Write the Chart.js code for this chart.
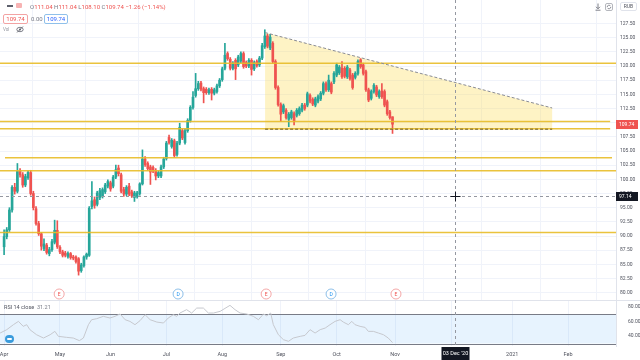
<!DOCTYPE html>
<html lang="en">
<head>
<meta charset="UTF-8" />
<title>RSI / price chart</title>
<script src="https://cdn.jsdelivr.net/npm/chart.js@4.4.0/dist/chart.umd.min.js"></script>
<style>
    body { margin: 0; background: #fff; font-family: Roboto, "Noto Sans", sans-serif; }
    #wrap { position: relative; width: 640px; height: 360px; overflow: hidden; }
    canvas { position: absolute; left: 0; }
    #main { top: 0; }
    #rsi { top: 300px; }
    .t { position: absolute; white-space: nowrap; line-height: 1; }
    .box { position: absolute; border: 1px solid; border-radius: 2px; font-size: 6px; line-height: 8px; text-align: center; }
</style>
</head>
<body>
<div id="wrap">
    <canvas id="main" width="640" height="300"></canvas>
    <canvas id="rsi" width="640" height="60"></canvas>

    <!-- legend -->
    <div class="t" style="left:7px;top:5px;width:6px;height:1.5px;background:#5d606b"></div>
    <div class="t" style="left:16px;top:3px;width:6px;height:5px;background:#f7b3b3;border-radius:1px"></div>
    <div class="t" style="left:30px;top:4px;font-size:6px;color:#787b86">O<span style="color:#ef5350">111.04</span> H<span style="color:#ef5350">111.04</span> L<span style="color:#ef5350">108.10</span> C<span style="color:#ef5350">109.74</span> <span style="color:#ef5350">−1.26 (−1.14%)</span></div>
    <div class="box" style="left:3px;top:14px;width:23px;height:8px;border-color:#f3a3a3;color:#ef5350">109.74</div>
    <div class="t" style="left:31px;top:16px;font-size:6px;color:#787b86">0.00</div>
    <div class="box" style="left:44px;top:14px;width:22px;height:8px;border-color:#8fc0ea;color:#2962ff">109.74</div>
    <div class="t" style="left:3px;top:28px;font-size:4.5px;color:#9598a1">Vol</div>
    <svg class="t" style="left:16px;top:26px" width="8" height="7" viewBox="0 0 8 7">
        <ellipse cx="4" cy="3.5" rx="3.2" ry="2.2" fill="none" stroke="#5d606b" stroke-width="0.8"/>
        <circle cx="4" cy="3.5" r="1" fill="#5d606b"/>
        <line x1="1" y1="6.5" x2="7" y2="0.5" stroke="#5d606b" stroke-width="0.8"/>
    </svg>

    <!-- top right -->
    <svg class="t" style="left:594px;top:3px" width="8" height="8" viewBox="0 0 8 8">
        <line x1="4" y1="0.5" x2="4" y2="5.5" stroke="#5d606b" stroke-width="0.8"/>
        <polyline points="2,3.8 4,5.8 6,3.8" fill="none" stroke="#5d606b" stroke-width="0.8"/>
        <line x1="1.5" y1="7.2" x2="6.5" y2="7.2" stroke="#5d606b" stroke-width="0.8"/>
    </svg>
    <svg class="t" style="left:605px;top:3px" width="8" height="8" viewBox="0 0 8 8">
        <rect x="0.5" y="0.5" width="7" height="7" rx="1.5" fill="none" stroke="#9598a1" stroke-width="0.7"/>
        <path d="M2.2 4 A1.8 1.8 0 0 1 5.6 3.2" fill="none" stroke="#5d606b" stroke-width="0.7"/>
        <path d="M5.8 4 A1.8 1.8 0 0 1 2.4 4.8" fill="none" stroke="#5d606b" stroke-width="0.7"/>
    </svg>
    <div class="box" style="left:620px;top:2px;width:15px;height:7px;line-height:7px;border-color:#e0e3eb;color:#50535e;font-size:5px">RUB</div>

    <!-- RSI pane -->
    <div class="t" style="left:4px;top:305px;font-size:5.5px;color:#50535e">RSI 14 close&nbsp;&nbsp;<span style="color:#787b86">31.21</span></div>
    <div class="t" style="left:5px;top:335px;width:9px;height:8px;border-radius:4px;background:#3a9bdc"></div>
    <div class="t" style="left:7px;top:338px;width:5px;height:2px;border-radius:1px;background:#fff"></div>
</div>

<script>
    const family = 'Roboto, "Noto Sans", sans-serif';
    const UP = '#26a69a';
    const DOWN = '#ef5350';

    // daily candles, index 0 = first trading day of April 2020
    const opens = [
        88.1, 89.9, 91.1, 94.6, 98.6, 97.9, 101.5, 100.8, 99.0, 100.3,
        101.2, 97.5, 94.8, 92.2, 90.4, 87.8, 88.4, 86.9, 87.6, 88.9,
        91.0, 88.0, 87.2, 87.0, 86.4, 86.9, 86.3, 86.3, 86.0, 83.9,
        84.8, 86.3, 86.6, 95.2, 96.4, 95.6, 96.8, 97.0, 97.8, 98.8,
        99.4, 98.8, 100.4, 102.0, 100.8, 98.2, 97.4, 98.8, 97.8, 96.8,
        97.0, 97.5, 99.2, 103.6, 102.8, 102.2, 102.1, 101.6, 100.6, 100.6,
        102.2, 103.7, 107.4, 105.8, 106.8, 104.4, 106.4, 108.6, 106.5, 108.6,
        110.4, 112.7, 114.8, 116.0, 117.0, 116.0, 115.9, 115.3, 115.9, 115.2,
        115.5, 116.5, 117.6, 119.6, 122.2, 121.2, 119.6, 121.0, 120.2, 120.9,
        122.2, 120.6, 120.0, 121.0, 119.5, 120.8, 120.2, 121.4, 123.4, 125.3,
        123.2, 124.0, 120.8, 116.2, 113.2, 111.9, 112.2, 110.6, 110.9, 111.6,
        111.3, 111.6, 112.2, 113.1, 113.1, 114.8, 114.1, 113.1, 113.8, 114.2,
        115.2, 116.9, 115.8, 116.9, 117.2, 118.4, 118.8, 119.6, 119.6, 118.1,
        119.3, 118.4, 118.0, 118.7, 121.1, 120.2, 119.0, 115.8, 114.3, 115.5,
        116.3, 114.6, 115.6, 115.5, 113.7, 111.9, 111.04
    ];
    const highs = [
        91.1, 91.5, 95.0, 98.9, 99.3, 102.8, 101.9, 101.2, 100.9, 101.5,
        101.6, 97.9, 95.2, 92.6, 90.6, 89.5, 88.7, 88.0, 89.4, 92.8,
        92.7, 88.3, 87.5, 87.3, 87.2, 87.1, 86.6, 86.5, 86.2, 85.2,
        86.5, 87.0, 95.2, 99.6, 96.9, 97.9, 98.4, 98.5, 99.3, 99.9,
        99.7, 100.7, 102.5, 102.5, 101.1, 98.6, 98.9, 99.3, 98.1, 97.9,
        97.9, 99.4, 105.2, 104.0, 103.1, 102.5, 102.4, 101.9, 101.5, 102.5,
        103.9, 106.7, 107.8, 107.2, 107.1, 106.7, 109.9, 108.9, 108.9, 110.7,
        113.0, 115.5, 118.7, 117.3, 117.3, 116.3, 116.2, 116.1, 116.2, 116.1,
        116.8, 117.8, 119.8, 124.0, 122.5, 121.5, 120.8, 121.3, 121.9, 122.5,
        122.5, 120.9, 121.3, 121.3, 120.9, 121.1, 121.7, 124.0, 126.4, 125.6,
        125.6, 124.3, 121.1, 116.5, 113.5, 113.3, 112.5, 111.8, 112.2, 111.9,
        112.5, 112.8, 113.4, 113.4, 115.4, 115.1, 114.4, 114.5, 114.9, 115.5,
        117.2, 117.2, 118.4, 117.2, 119.0, 120.5, 120.1, 120.8, 119.9, 120.1,
        119.6, 118.7, 119.0, 121.1, 121.3, 120.5, 119.3, 116.1, 115.8, 116.9,
        116.6, 115.8, 116.9, 115.8, 114.0, 112.2, 111.04
    ];
    const lows = [
        86.7, 89.5, 90.8, 94.2, 97.4, 97.6, 100.4, 98.6, 98.7, 100.0,
        97.2, 94.6, 91.9, 90.1, 87.5, 87.4, 86.8, 86.5, 87.3, 88.6,
        87.8, 86.9, 86.3, 86.3, 86.1, 85.9, 85.8, 85.2, 83.1, 83.6,
        84.5, 85.9, 86.4, 94.8, 94.9, 95.3, 96.4, 96.7, 97.5, 98.5,
        97.9, 98.5, 100.1, 100.6, 97.6, 97.0, 97.1, 97.1, 96.8, 96.1,
        96.7, 97.2, 99.0, 102.3, 101.6, 99.1, 101.2, 99.9, 100.3, 100.3,
        101.9, 103.4, 106.2, 105.5, 103.9, 104.1, 106.1, 107.0, 106.2, 108.3,
        110.1, 112.4, 114.5, 115.7, 115.6, 113.5, 115.0, 115.0, 114.0, 114.9,
        115.2, 116.2, 117.3, 119.3, 121.0, 119.3, 119.3, 117.6, 119.9, 120.6,
        119.6, 119.7, 119.7, 118.4, 119.2, 119.8, 119.9, 121.1, 123.1, 123.2,
        122.9, 120.5, 115.9, 112.9, 110.2, 111.6, 110.6, 109.3, 110.6, 109.6,
        111.0, 111.3, 111.9, 112.2, 112.8, 113.5, 113.0, 112.8, 113.5, 113.9,
        114.9, 115.5, 115.5, 115.1, 116.9, 118.1, 118.5, 117.8, 117.9, 117.8,
        117.5, 115.9, 117.7, 118.4, 119.6, 118.4, 115.5, 113.7, 114.0, 115.2,
        114.6, 114.3, 114.3, 112.8, 111.3, 110.6, 108.10
    ];
    const closes = [
        89.9, 91.1, 94.6, 98.6, 97.9, 101.4, 100.8, 99.0, 100.5, 101.2,
        97.5, 95.0, 92.2, 90.4, 88.2, 88.6, 87.1, 87.6, 89.0, 91.0,
        88.1, 87.2, 86.6, 86.6, 86.9, 86.2, 86.1, 85.5, 83.8, 84.9,
        86.3, 86.8, 94.9, 96.2, 95.4, 97.6, 98.0, 98.2, 99.0, 99.6,
        98.3, 100.4, 101.7, 101.0, 97.9, 97.4, 98.6, 97.4, 97.1, 97.6,
        97.6, 99.2, 103.6, 102.6, 101.9, 101.3, 101.5, 100.6, 101.2, 102.2,
        103.6, 106.4, 106.5, 106.9, 104.2, 106.4, 109.2, 107.3, 108.6, 110.4,
        112.7, 114.5, 116.0, 116.9, 115.9, 115.3, 115.3, 115.8, 115.2, 115.8,
        116.5, 117.5, 119.5, 121.9, 121.3, 119.6, 120.5, 119.5, 121.6, 122.2,
        119.9, 120.0, 121.0, 119.4, 120.6, 120.1, 121.4, 123.6, 125.3, 123.5,
        125.1, 120.8, 116.2, 113.2, 111.5, 113.0, 110.9, 111.5, 111.9, 110.3,
        112.2, 112.5, 113.1, 112.5, 115.1, 113.8, 113.3, 114.2, 114.6, 115.2,
        116.9, 115.8, 117.5, 115.4, 118.7, 120.2, 119.8, 118.1, 118.2, 119.8,
        117.8, 116.2, 118.7, 120.8, 119.9, 118.7, 115.8, 114.0, 115.5, 116.6,
        114.9, 115.5, 114.6, 113.1, 111.6, 110.9, 109.74
    ];

    // RSI 14 line (bar index, value)
    const rsiBars = [-1.5, 1, 3.5, 5.4, 7.2, 8.5, 9.7, 12.2, 14.8, 17.3, 19.1, 20.4, 23.5, 26, 28.3, 29.8,
        31.7, 32.9, 34.8, 37.3, 39.8, 41.7, 43.6, 45.5, 47.3, 49.2, 51.1, 53, 54.9, 57.4, 59.9, 61.7,
        63.6, 64.9, 66.1, 68.6, 70.5, 72.4, 74.9, 76.8, 78.7, 81.2, 84.9, 86.8, 88.7, 91.2, 93.7, 95.6,
        97.5, 98.7, 100.2, 101.2, 103.1, 105, 106.9, 108.7, 111.3, 113.1, 115, 116.9, 118.8, 120.7,
        122.5, 124.4, 126.3, 127.5, 129.4, 130.7, 131.9, 133.8, 135.7, 136.9, 138.8, 140.7, 142.6, 144.4, 146];
    const rsiVals = [44.3, 48.9, 55.7, 60.2, 53.4, 55.7, 48.9, 42, 37.5, 42, 46.6, 39.8, 38.4, 37.5, 33.9, 37.5,
        55.7, 62.5, 63.9, 67.1, 64.8, 67.1, 70.3, 62.5, 60.2, 55.7, 61.2, 69.3, 62.5, 59.3, 58, 64.8,
        69.3, 67.1, 71.6, 76.2, 71.6, 78.4, 78.4, 71.6, 71.6, 73.9, 82.1, 76.2, 71.6, 70.3, 67.1, 62.5,
        70.3, 67.8, 71.6, 55.7, 42, 35.2, 33, 37.5, 39.8, 41.1, 48.9, 44.3, 48.9, 51.1,
        55.7, 60.2, 62.5, 59.3, 55.7, 60.2, 55.7, 53.4, 52, 46.6, 46.6, 44.3, 42, 37.5, 31.2];
    const rsiBand = [30, 70];

    // axes
    const monthBars = [0, 21, 40, 61, 82, 104, 125, 147, 168, 191, 212];
    const monthNames = ['Apr', 'May', 'Jun', 'Jul', 'Aug', 'Sep', 'Oct', 'Nov', 'Dec', '2021', 'Feb'];
    const priceTicks = [80, 82.5, 85, 87.5, 90, 92.5, 95, 97.5, 100, 102.5, 105, 107.5, 110, 112.5,
        115, 117.5, 120, 122.5, 125, 127.5];
    const rsiTicks = [40, 60, 80];

    // drawings on the chart
    const levels = [120.5, 110.2, 108.95, 103.8, 101.5, 90.6];
    const levelFrom = [-1.54, -1.54, -1.54, 0.34, -1.54, -1.54];
    const levelTo = [230, 227.8, 227.8, 228.5, 230, 230];
    const triBars = [98.1, 206];
    const triTop = [125.9, 112.6];
    const triBase = 108.85;
    const eventBars = [20.7, 65.4, 98.5, 122.9, 147.3];
    const eventKinds = ['E', 'D', 'E', 'D', 'E'];
    const lastPrice = 109.74;
    const crossBar = 169.5;
    const crossPrice = 97.14;
    const crossDate = "03 Dec '20";

    const xMin = -1.54, xMax = 230;
    const colors = closes.map((c, i) => (c >= opens[i] ? UP : DOWN));

    function axisLabel(ctx, yPix, text, bg) {
        ctx.fillStyle = bg;
        ctx.fillRect(616, Math.round(yPix) - 4, 22, 9);
        ctx.fillStyle = '#fff';
        ctx.font = '5px ' + family;
        ctx.textBaseline = 'middle';
        ctx.textAlign = 'left';
        ctx.fillText(text, 619, Math.round(yPix) + 0.5);
    }

    const overlay = {
        id: 'overlay',
        beforeDatasetsDraw(chart) {
            const { ctx, scales: { x, y } } = chart;
            ctx.save();
            ctx.fillStyle = 'rgba(251,220,90,0.35)';
            ctx.beginPath();
            ctx.moveTo(x.getPixelForValue(triBars[0]), y.getPixelForValue(triTop[0]));
            ctx.lineTo(x.getPixelForValue(triBars[1]), y.getPixelForValue(triTop[1]));
            ctx.lineTo(x.getPixelForValue(triBars[1]), y.getPixelForValue(triBase));
            ctx.lineTo(x.getPixelForValue(triBars[0]), y.getPixelForValue(triBase));
            ctx.closePath();
            ctx.fill();
            ctx.restore();
        },
        afterDatasetsDraw(chart) {
            const { ctx, chartArea: a, scales: { x, y } } = chart;
            ctx.save();
            // horizontal levels
            ctx.strokeStyle = 'rgba(232,188,40,0.9)';
            ctx.lineWidth = 1.5;
            levels.forEach((lv, i) => {
                const py = y.getPixelForValue(lv);
                ctx.beginPath();
                ctx.moveTo(x.getPixelForValue(levelFrom[i]), py);
                ctx.lineTo(x.getPixelForValue(levelTo[i]), py);
                ctx.stroke();
            });
            // triangle edges
            ctx.lineWidth = 1;
            ctx.setLineDash([3, 2]);
            ctx.strokeStyle = '#8a8c94';
            ctx.beginPath();
            ctx.moveTo(x.getPixelForValue(triBars[0]), y.getPixelForValue(triTop[0]));
            ctx.lineTo(x.getPixelForValue(triBars[1]), y.getPixelForValue(triTop[1]));
            ctx.stroke();
            ctx.strokeStyle = '#6b5a2a';
            ctx.beginPath();
            ctx.moveTo(x.getPixelForValue(triBars[0]), y.getPixelForValue(triBase));
            ctx.lineTo(x.getPixelForValue(triBars[1]), y.getPixelForValue(triBase));
            ctx.stroke();
            // crosshair
            const cx = Math.round(x.getPixelForValue(crossBar)) + 0.5;
            const cy = Math.round(y.getPixelForValue(crossPrice)) + 0.5;
            ctx.strokeStyle = '#9598a1';
            ctx.setLineDash([3, 3]);
            ctx.beginPath();
            ctx.moveTo(cx, a.top);
            ctx.lineTo(cx, a.bottom);
            ctx.moveTo(a.left, cy);
            ctx.lineTo(a.right, cy);
            ctx.stroke();
            ctx.setLineDash([]);
            ctx.strokeStyle = '#131722';
            ctx.beginPath();
            ctx.moveTo(cx - 5, cy);
            ctx.lineTo(cx + 5, cy);
            ctx.moveTo(cx, cy - 5);
            ctx.lineTo(cx, cy + 5);
            ctx.stroke();
            // earnings / dividends markers
            ctx.font = '5px ' + family;
            ctx.textAlign = 'center';
            ctx.textBaseline = 'middle';
            eventBars.forEach((b, i) => {
                const ex = x.getPixelForValue(b);
                const isE = eventKinds[i] === 'E';
                ctx.beginPath();
                ctx.arc(ex, 294, 5, 0, Math.PI * 2);
                ctx.fillStyle = '#fff';
                ctx.fill();
                ctx.strokeStyle = isE ? '#f4a7a7' : '#8dbfe8';
                ctx.stroke();
                ctx.fillStyle = isE ? '#ef5350' : '#2196f3';
                ctx.fillText(eventKinds[i], ex, 294.5);
            });
            ctx.restore();
        },
        afterDraw(chart) {
            const { ctx, scales: { y } } = chart;
            ctx.save();
            axisLabel(ctx, y.getPixelForValue(lastPrice), lastPrice.toFixed(2), '#ef5350');
            axisLabel(ctx, y.getPixelForValue(crossPrice), crossPrice.toFixed(2), '#131722');
            ctx.restore();
        }
    };

    new Chart('main', {
        type: 'bar',
        data: {
            datasets: [
                {
                    data: closes.map((c, i) => ({ x: i, y: [lows[i], highs[i]] })),
                    backgroundColor: colors,
                    barThickness: 1,
                    grouped: false,
                    order: 2,
                },
                {
                    data: closes.map((c, i) => ({ x: i, y: [opens[i], c] })),
                    backgroundColor: colors,
                    barThickness: 2,
                    minBarLength: 1,
                    grouped: false,
                    order: 1,
                },
            ],
        },
        options: {
            responsive: false,
            animation: false,
            layout: { padding: 0 },
            plugins: { legend: { display: false }, tooltip: { enabled: false } },
            scales: {
                x: {
                    type: 'linear',
                    min: xMin,
                    max: xMax,
                    offset: false,
                    grid: { color: '#f0f3fa', drawTicks: false },
                    border: { display: false },
                    ticks: { display: false },
                    afterBuildTicks: (s) => { s.ticks = monthBars.map((v) => ({ value: v })); },
                    afterFit: (s) => { s.height = 0; s.paddingLeft = 0; s.paddingRight = 0; },
                },
                y: {
                    position: 'right',
                    min: 78.71,
                    max: 131.65,
                    grid: { color: '#f0f3fa', drawTicks: false },
                    border: { display: true, color: '#e0e3eb' },
                    ticks: {
                        font: { size: 5, family },
                        color: '#50535e',
                        padding: 4,
                        callback: (v) => Number(v).toFixed(2),
                    },
                    afterBuildTicks: (s) => { s.ticks = priceTicks.map((v) => ({ value: v })); },
                    afterFit: (s) => { s.width = 24; s.paddingTop = 0; s.paddingBottom = 0; },
                },
            },
        },
        plugins: [overlay],
    });

    const rsiOverlay = {
        id: 'rsiOverlay',
        beforeDatasetsDraw(chart) {
            const { ctx, chartArea: a, scales: { y } } = chart;
            const yHi = y.getPixelForValue(rsiBand[1]);
            const yLo = y.getPixelForValue(rsiBand[0]);
            ctx.save();
            ctx.fillStyle = 'rgba(33,150,243,0.11)';
            ctx.fillRect(a.left, yHi, a.right - a.left, yLo - yHi);
            ctx.strokeStyle = '#787b86';
            ctx.lineWidth = 1;
            [yHi, yLo].forEach((v) => {
                ctx.beginPath();
                ctx.moveTo(a.left, Math.round(v) + 0.5);
                ctx.lineTo(a.right, Math.round(v) + 0.5);
                ctx.stroke();
            });
            ctx.strokeStyle = '#e0e3eb';
            ctx.beginPath();
            ctx.moveTo(0, 0.5);
            ctx.lineTo(chart.width, 0.5);
            ctx.stroke();
            ctx.restore();
        },
        afterDraw(chart) {
            const { ctx, chartArea: a, scales: { x } } = chart;
            const cx = Math.round(x.getPixelForValue(crossBar)) + 0.5;
            ctx.save();
            ctx.strokeStyle = '#9598a1';
            ctx.setLineDash([3, 3]);
            ctx.beginPath();
            ctx.moveTo(cx, a.top);
            ctx.lineTo(cx, a.bottom);
            ctx.stroke();
            ctx.fillStyle = '#131722';
            ctx.fillRect(cx - 14, 47, 28, 13);
            ctx.fillStyle = '#fff';
            ctx.font = '5.5px ' + family;
            ctx.textAlign = 'center';
            ctx.textBaseline = 'middle';
            ctx.fillText(crossDate, cx, 53.5);
            ctx.restore();
        }
    };

    new Chart('rsi', {
        type: 'line',
        data: {
            datasets: [
                {
                    data: rsiBars.map((b, i) => ({ x: b, y: rsiVals[i] })),
                    borderColor: '#c6c8ce',
                    borderWidth: 1,
                    pointRadius: 0,
                    tension: 0,
                },
            ],
        },
        options: {
            responsive: false,
            animation: false,
            layout: { padding: 0 },
            plugins: { legend: { display: false }, tooltip: { enabled: false } },
            scales: {
                x: {
                    type: 'linear',
                    min: xMin,
                    max: xMax,
                    grid: { color: '#f0f3fa', drawTicks: false },
                    border: { display: false },
                    ticks: {
                        font: { size: 5.5, family },
                        color: '#50535e',
                        padding: 5,
                        autoSkip: false,
                        maxRotation: 0,
                        callback: (v, i) => monthNames[i],
                    },
                    afterBuildTicks: (s) => { s.ticks = monthBars.map((v) => ({ value: v })); },
                    afterFit: (s) => { s.height = 14; s.paddingLeft = 0; s.paddingRight = 0; },
                },
                y: {
                    position: 'right',
                    min: 26.6,
                    max: 89.4,
                    grid: { display: false },
                    border: { display: true, color: '#e0e3eb' },
                    ticks: {
                        font: { size: 5, family },
                        color: '#50535e',
                        padding: 4,
                        callback: (v) => Number(v).toFixed(2),
                    },
                    afterBuildTicks: (s) => { s.ticks = rsiTicks.map((v) => ({ value: v })); },
                    afterFit: (s) => { s.width = 24; s.paddingTop = 0; s.paddingBottom = 0; },
                },
            },
        },
        plugins: [rsiOverlay],
    });
</script>
</body>
</html>
